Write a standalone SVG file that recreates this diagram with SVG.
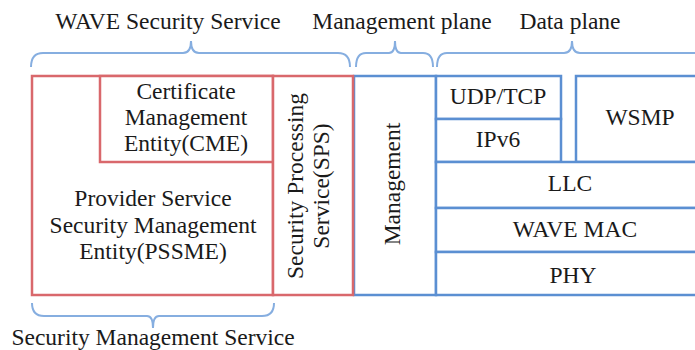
<svg xmlns="http://www.w3.org/2000/svg" width="695" height="350" viewBox="0 0 695 350">
<style>
text{font-family:'Liberation Serif','Times New Roman',serif;font-size:23.5px;fill:#1a1a1a;text-anchor:middle}
.red{fill:#fff;stroke:#d9686c;stroke-width:2.5}
.blue{fill:#fff;stroke:#5b8fd2;stroke-width:2.5}
.brace{fill:none;stroke:#86aee0;stroke-width:2}
</style>
<rect width="695" height="350" fill="#fff"/>
<g id="connectors">
<path class="brace" d="M31,67 Q31,53 43,53 H183 Q191,53 191,41 Q191,53 199,53 H338 Q350,53 350,67"/>
<path class="brace" d="M356,67 Q356,53 366,53 H389 Q395,53 395,41 Q395,53 401,53 H423 Q433,53 433,67"/>
<path class="brace" d="M437,67 Q437,53 447,53 H564 Q572,53 572,41 Q572,53 580,53 H700"/>
<path class="brace" d="M32,303 Q32,316 44,316 H147 Q153,316 153,328 Q153,316 159,316 H262 Q274,316 274,303"/>
</g>
<g id="label-wave-security">
<text x="168" y="29">WAVE Security Service</text>
</g>
<g id="label-management-plane">
<text x="402" y="29">Management plane</text>
</g>
<g id="label-data-plane">
<text x="570" y="29">Data plane</text>
</g>
<g id="label-security-management">
<text x="153" y="345">Security Management Service</text>
</g>
<g id="management">
<rect class="blue" x="354" y="76" width="82" height="219"/>
<text transform="translate(400,184) rotate(-90)">Management</text>
</g>
<g id="udp-tcp">
<rect class="blue" x="436" y="76" width="125" height="43"/>
<text x="498" y="104">UDP/TCP</text>
</g>
<g id="ipv6">
<rect class="blue" x="436" y="119" width="125" height="43"/>
<text x="498" y="147">IPv6</text>
</g>
<g id="wsmp">
<rect class="blue" x="576" y="76" width="130" height="86"/>
<text x="640" y="125">WSMP</text>
</g>
<g id="llc">
<rect class="blue" x="436" y="162" width="272" height="46"/>
<text x="570" y="191">LLC</text>
</g>
<g id="wave-mac">
<rect class="blue" x="436" y="208" width="272" height="44"/>
<text x="575" y="237">WAVE MAC</text>
</g>
<g id="phy">
<rect class="blue" x="436" y="252" width="272" height="43"/>
<text x="573" y="283">PHY</text>
</g>
<g id="pssme">
<rect class="red" x="32" y="76" width="241" height="219"/>
<text x="153" y="206">Provider Service</text>
<text x="153" y="233">Security Management</text>
<text x="153" y="259">Entity(PSSME)</text>
</g>
<g id="cme">
<rect class="red" x="100" y="76" width="173" height="86"/>
<text x="186" y="99">Certificate</text>
<text x="186" y="125">Management</text>
<text x="186" y="151">Entity(CME)</text>
</g>
<g id="sps">
<rect class="red" x="273" y="76" width="80" height="219"/>
<text transform="translate(303,186) rotate(-90)">Security Processing</text>
<text transform="translate(329,186) rotate(-90)">Service(SPS)</text>
</g>
</svg>
